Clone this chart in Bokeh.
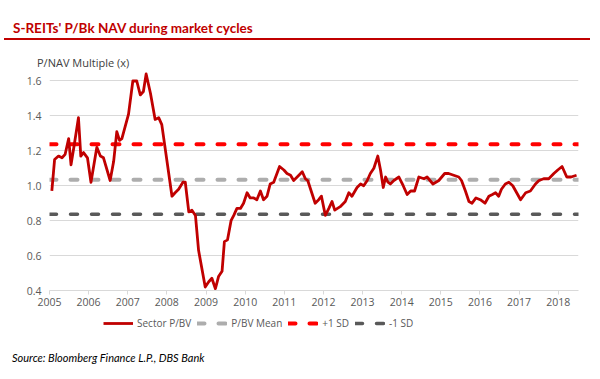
from bokeh.plotting import figure
from bokeh.layouts import column
from bokeh.models import (Range1d, FixedTicker, PrintfTickFormatter, Legend, LegendItem, Div)
from bokeh.embed import file_html
from bokeh.resources import INLINE

# ---- data ----
dates = [2005.06, 2005.13, 2005.23, 2005.32, 2005.40, 2005.49, 2005.55, 2005.63, 2005.74, 2005.80,
         2005.87, 2005.97, 2006.06, 2006.21, 2006.30, 2006.38, 2006.55, 2006.64, 2006.72, 2006.79,
         2006.85, 2007.02, 2007.13, 2007.23, 2007.32, 2007.40, 2007.47, 2007.58, 2007.70, 2007.79,
         2007.87, 2008.13, 2008.21, 2008.30, 2008.41, 2008.47, 2008.56, 2008.64, 2008.73, 2008.81,
         2008.98, 2009.07, 2009.15, 2009.24, 2009.32, 2009.41, 2009.47, 2009.55, 2009.64, 2009.71,
         2009.79, 2009.88, 2009.96, 2010.05, 2010.13, 2010.22, 2010.30, 2010.39, 2010.47, 2010.56,
         2010.64, 2010.73, 2010.88, 2010.99, 2011.07, 2011.16, 2011.24, 2011.33, 2011.46, 2011.54,
         2011.60, 2011.79, 2011.88, 2011.95, 2012.05, 2012.14, 2012.22, 2012.29, 2012.43, 2012.56,
         2012.65, 2012.73, 2012.86, 2012.95, 2013.03, 2013.12, 2013.20, 2013.29, 2013.39, 2013.46,
         2013.53, 2013.59, 2013.65, 2013.71, 2013.80, 2013.93, 2014.04, 2014.14, 2014.23, 2014.33,
         2014.44, 2014.57, 2014.65, 2014.80, 2014.95, 2015.10, 2015.20, 2015.33, 2015.46, 2015.53,
         2015.63, 2015.72, 2015.80, 2015.90, 2016.01, 2016.13, 2016.23, 2016.32, 2016.40, 2016.48,
         2016.55, 2016.65, 2016.74, 2016.84, 2017.04, 2017.17, 2017.29, 2017.42, 2017.51, 2017.63,
         2017.76, 2017.89, 2017.99, 2018.10, 2018.22, 2018.33, 2018.47]
sector_pbv = [0.97, 1.15, 1.17, 1.16, 1.18, 1.27, 1.12, 1.23, 1.39, 1.17,
              1.19, 1.16, 1.02, 1.22, 1.17, 1.16, 1.03, 1.14, 1.31, 1.26,
              1.27, 1.41, 1.60, 1.60, 1.52, 1.54, 1.64, 1.53, 1.38, 1.39,
              1.35, 0.94, 0.96, 0.98, 1.02, 1.02, 0.85, 0.86, 0.83, 0.63,
              0.42, 0.45, 0.47, 0.41, 0.48, 0.51, 0.68, 0.69, 0.80, 0.83,
              0.87, 0.87, 0.90, 0.96, 0.93, 0.93, 0.92, 0.97, 0.92, 0.94,
              1.01, 1.02, 1.11, 1.09, 1.07, 1.06, 1.03, 1.05, 1.08, 1.04,
              1.03, 0.90, 0.92, 0.94, 0.83, 0.87, 0.91, 0.86, 0.88, 0.91,
              0.96, 0.94, 0.99, 1.01, 1.00, 1.03, 1.07, 1.10, 1.17, 1.09,
              0.99, 1.05, 1.02, 1.01, 1.03, 1.05, 1.00, 0.95, 0.97, 0.97,
              1.05, 1.04, 1.05, 1.01, 1.03, 1.07, 1.07, 1.06, 1.05, 1.03,
              0.97, 0.91, 0.90, 0.93, 0.92, 0.90, 0.94, 0.95, 0.96, 0.94,
              0.98, 1.01, 1.02, 1.00, 0.92, 0.96, 0.97, 1.01, 1.03, 1.04,
              1.04, 1.07, 1.09, 1.11, 1.05, 1.05, 1.06]
pbv_mean = 1.034
plus_1sd = 1.237
minus_1sd = 0.836
x_span = [2005, 2018.52]
year_ticks = list(range(2005, 2019))
y_ticks = [0.4, 0.6, 0.8, 1.0, 1.2, 1.4, 1.6]
series_names = ["Sector P/BV", "P/BV Mean", "+1 SD", "-1 SD"]
title_text = "S-REITs' P/Bk NAV during market cycles"
y_caption = "P/NAV Multiple (x)"
source_text = "Source: Bloomberg Finance L.P., DBS Bank"

FONT = "Open Sans"
TXT = "#595959"
W = 592
BL, BR = 49, 14  # borders around the plotting frame
MAIN_STYLE = dict(line_color="#C00000", line_width=2.8, line_join="round")
MEAN_STYLE = dict(line_color="#ADADAD", line_width=4, line_dash="7 14", line_cap="round")
PLUS_STYLE = dict(line_color="#FF0000", line_width=4, line_dash="7 14", line_cap="round")
MINUS_STYLE = dict(line_color="#595959", line_width=3.5, line_dash="7 14", line_cap="round")

# ---- header: title, underline, axis caption ----
header = Div(width=W, height=70, margin=0, text=(
    '<div style="position:relative;width:%dpx;height:70px;margin:0;padding:0;">'
    '<div style="position:absolute;left:13px;top:20px;font-family:Lato;font-weight:bold;'
    'font-size:13.5px;line-height:normal;color:#C00000;white-space:nowrap;">%s</div>'
    '<div style="position:absolute;left:4px;top:37.5px;width:586px;height:2px;background:#C00000;"></div>'
    '<div style="position:absolute;left:37px;top:55px;font-family:\'Open Sans\';font-size:11px;'
    'line-height:normal;color:#404040;white-space:nowrap;">%s</div>'
    '</div>') % (W, title_text, y_caption))

# ---- main chart ----
p = figure(width=W, height=244, output_backend="svg", toolbar_location=None,
           x_range=Range1d(x_span[0], x_span[1]), y_range=Range1d(0.4, 1.66),
           min_border_left=BL, min_border_right=BR, min_border_top=0, min_border_bottom=24)
p.outline_line_color = None
p.xgrid.visible = False
p.ygrid.grid_line_color = "#D9D9D9"

p.yaxis.ticker = FixedTicker(ticks=y_ticks)
p.yaxis.formatter = PrintfTickFormatter(format="%.1f")
p.yaxis.axis_line_color = None
p.yaxis.major_tick_line_color = None
p.yaxis.minor_tick_line_color = None
p.yaxis.major_tick_out = 0
p.yaxis.major_label_standoff = 8

p.xaxis.ticker = FixedTicker(ticks=year_ticks)
p.xaxis.formatter = PrintfTickFormatter(format="%d")
p.xaxis.axis_line_color = "#D9D9D9"
p.xaxis.major_tick_line_color = "#D9D9D9"
p.xaxis.minor_tick_line_color = None
p.xaxis.major_tick_out = 4
p.xaxis.major_tick_in = 0
p.xaxis.major_label_standoff = 3

for ax in (p.xaxis[0], p.yaxis[0]):
    ax.major_label_text_font = FONT
    ax.major_label_text_font_size = "10.5px"
    ax.major_label_text_color = TXT

p.line(x_span, [minus_1sd, minus_1sd], **MINUS_STYLE)
p.line(x_span, [pbv_mean, pbv_mean], **MEAN_STYLE)
p.line(x_span, [plus_1sd, plus_1sd], **PLUS_STYLE)
p.line(dates, sector_pbv, **MAIN_STYLE)

# ---- legend strip ----
ftr = figure(width=W, height=26, output_backend="svg", toolbar_location=None,
             x_range=Range1d(0, 1), y_range=Range1d(0, 1),
             x_axis_type=None, y_axis_type=None,
             min_border_left=BL, min_border_right=BR, min_border_top=0, min_border_bottom=0)
ftr.outline_line_color = None
ftr.grid.visible = False
# legend keys only (placed outside the visible range)
leg_r = [ftr.line([-3, -2], [-3, -3], **st) for st in (MAIN_STYLE, MEAN_STYLE, PLUS_STYLE, MINUS_STYLE)]
legend = Legend(items=[LegendItem(label=n, renderers=[r]) for n, r in zip(series_names, leg_r)],
                orientation="horizontal", location=(54, 10),
                padding=0, margin=0, spacing=6, glyph_width=30, glyph_height=14,
                label_height=14, label_standoff=4, border_line_color=None,
                background_fill_alpha=0,
                label_text_font=FONT, label_text_font_size="10px", label_text_color=TXT)
ftr.add_layout(legend, "center")

# ---- source note ----
source = Div(width=W, height=35, margin=0, text=(
    '<div style="position:relative;width:%dpx;height:35px;margin:0;padding:0;">'
    '<div style="position:absolute;left:12px;top:11px;font-family:Lato;font-style:italic;'
    'font-size:11px;line-height:normal;color:#000000;white-space:nowrap;">%s</div>'
    '</div>') % (W, source_text))

layout = column(header, p, ftr, source, spacing=0)
open("out.html", "w").write(file_html(layout, INLINE))
